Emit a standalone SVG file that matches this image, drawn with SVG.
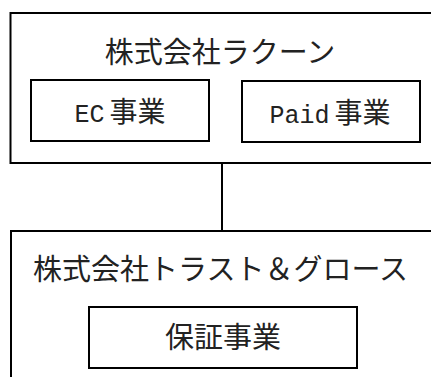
<svg xmlns="http://www.w3.org/2000/svg" width="431" height="377" viewBox="0 0 431 377">
<style>
.box{fill:#fff;stroke:#000;stroke-width:2}
.t{font-family:"Liberation Mono","Noto Sans CJK JP",monospace;font-size:28px;fill:#222;text-anchor:middle}
.big{font-size:29px}
.lat{font-size:25px}
</style>
<rect width="431" height="377" fill="#fff"/>
<g id="connectors">
<line x1="222" y1="163" x2="222" y2="231" stroke="#000" stroke-width="2"/>
</g>
<g id="raccoon">
<rect class="box" x="10.5" y="13" width="430" height="150"/>
<text class="t big" x="220" y="63">株式会社ラクーン</text>
</g>
<g id="ec">
<rect class="box" x="31" y="80" width="178" height="61"/>
<text class="t" x="120" y="122"><tspan class="lat">EC</tspan><tspan dx="5">事業</tspan></text>
</g>
<g id="paid">
<rect class="box" x="242" y="81" width="178" height="61"/>
<text class="t" x="330" y="123"><tspan class="lat">Paid</tspan><tspan dx="5">事業</tspan></text>
</g>
<g id="trust">
<rect class="box" x="11" y="231" width="430" height="160"/>
<text class="t big" x="220.5" y="280">株式会社トラスト＆グロース</text>
</g>
<g id="hosho">
<rect class="box" x="89" y="307" width="268" height="61"/>
<text class="t big" x="223" y="348">保証事業</text>
</g>
</svg>
